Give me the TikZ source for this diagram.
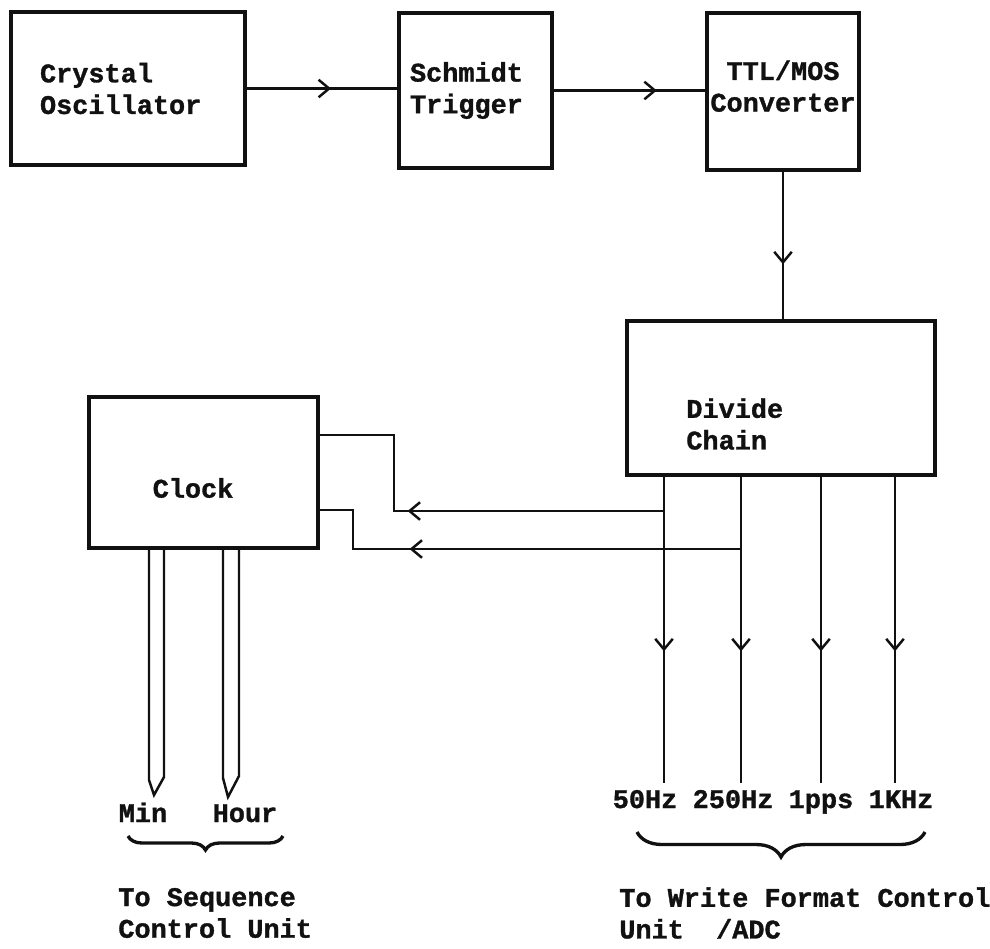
\documentclass[tikz,border=0pt]{standalone}
\usepackage{fontspec}
\newfontfamily\tyfont{Liberation Mono}[BoldFeatures={FakeBold=1.2}]
\usetikzlibrary{arrows.meta,positioning,calc,decorations.pathreplacing,decorations.markings}
\definecolor{dgInk}{HTML}{111111}
\tikzset{
  blk/.style={draw=dgInk, line width=1.9pt, inner sep=0pt},
  txt/.style={font=\tyfont\bfseries\fontsize{15.3pt}{18pt}\selectfont, text=dgInk, inner sep=0pt, align=left},
  arr/.style={line width=1.4pt, draw=dgInk},
  midarr/.style={arr, postaction={decorate}, decoration={markings, mark=at position #1 with {\arrow{Straight Barb[length=6pt, width=10pt]}}}},
  dbl/.style={line width=1.4pt, draw=dgInk, line join=miter},
  brc/.style={draw=dgInk, line width=1.9pt, decorate, decoration={brace, amplitude=#1}},
}
\begin{document}
\begin{tikzpicture}[x=0.02cm, y=-0.02cm]
    \useasboundingbox (0,0) rectangle (990,948);
    % top chain
    \node[blk, txt, minimum width=4.68cm, minimum height=3.06cm, text width=3.52cm, inner xsep=0.58cm] (xtal) at (128,88.5) {Crystal\\Oscillator};
    \node[blk, txt, minimum width=3.06cm, minimum height=3.10cm, text width=2.62cm, inner xsep=0.22cm] (schm) at (475.5,90.5) {Schmidt\\Trigger};
    \node[blk, txt, align=center, minimum width=3.04cm, minimum height=3.14cm, text width=2.95cm, text height=5pt] (ttl) at (783,91.5) {TTL/MOS\\Converter};
    \draw[midarr=0.56] (xtal.east) -- (xtal.east -| schm.west);
    \draw[midarr=0.68] (schm.east) -- (schm.east -| ttl.west);
    \draw[midarr=0.62] (ttl.south) -- (ttl.south |- 0,321);

    % divider and clock
    \node[blk, minimum width=6.16cm, minimum height=3.08cm] (divide) at (781,398) {};
    \node[txt, anchor=west] (divtxt) at (686,424) {Divide\\Chain};
    \node[blk, minimum width=4.58cm, minimum height=3.02cm] (clock) at (203.5,472.5) {};
    \node[txt] (clktxt) at (193,488) {Clock};

    % outputs
    \foreach \n/\x/\lx/\lab in {1/664/645/50Hz, 2/741/733/250Hz, 3/821/821/1pps, 4/895/901/1KHz}{
        \coordinate (o\n) at (divide.south -| \x,0);
        \coordinate (e\n) at (\x,783);
        \node[txt, anchor=base] (f\n) at (\lx,808) {\lab};
        \draw[midarr=0.57] (o\n) -- (e\n);
    }
    \draw[midarr=0.61] (o1 |- 0,511) -- (394,511) |- (clock.east |- 0,435);
    \draw[midarr=0.72] (o2 |- 0,549) -- (353,549) |- (clock.east |- 0,510);

    % min / hour
    \draw[dbl] (clock.south -| 149,0) -- (149,780) -- (154,795) -- (164,777) -- (clock.south -| 164,0);
    \draw[dbl] (clock.south -| 223,0) -- (223,778) -- (228,797) -- (239,776) -- (clock.south -| 239,0);
    \node[txt, anchor=base] (mn) at (143,822) {Min};
    \node[txt, anchor=base] (hr) at (245,822) {Hour};

    \draw[brc=0.28cm] (283,836) -- (128,836);
    \draw[brc=0.5cm] (925,832) -- (637,832);
    \node[txt, anchor=west] (seq) at (118,913) {To Sequence\\Control Unit};
    \node[txt, anchor=west] (wfc) at (619,913) {To Write Format Control\\Unit\ \ /ADC};
\end{tikzpicture}
\end{document}
